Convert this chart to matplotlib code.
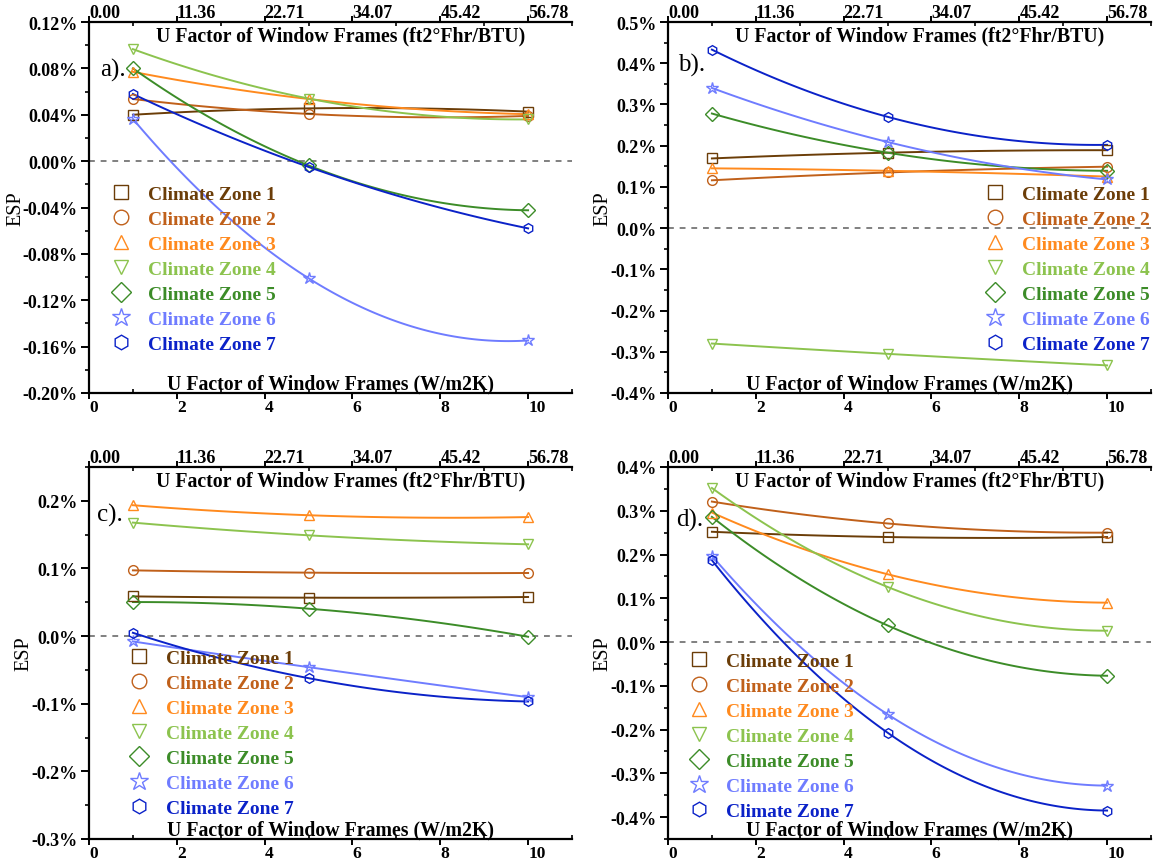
import numpy as np
import matplotlib.pyplot as plt
from matplotlib.ticker import MultipleLocator, FuncFormatter

plt.rcParams['font.family'] = ['Liberation Serif', 'DejaVu Serif']
plt.rcParams['font.weight'] = 'bold'

# window frame U factor (W/m2K) of the three simulated cases
u_si = [1, 5, 10]
top_ticks = [0, 2, 4, 6, 8, 10]
top_labels = ['0.00', '11.36', '22.71', '34.07', '45.42', '56.78']

zones = ['Climate Zone 1', 'Climate Zone 2', 'Climate Zone 3', 'Climate Zone 4',
         'Climate Zone 5', 'Climate Zone 6', 'Climate Zone 7']
colors = ['#6b3d08', '#c0601a', '#ff8a1e', '#8cc34e', '#3c8c28', '#6f7cff', '#0b22c8']
markers = ['s', 'o', '^', 'v', 'D', '*', 'h']

# ESP (%) per climate zone, one row per zone
esp_a = [[0.0400, 0.0455, 0.0427],
         [0.0536, 0.0407, 0.0390],
         [0.0770, 0.0536, 0.0405],
         [0.0966, 0.0540, 0.0360],
         [0.0800, -0.0037, -0.0424],
         [0.0364, -0.1010, -0.1547],
         [0.0579, -0.0050, -0.0580]]
esp_b = [[0.169, 0.183, 0.189],
         [0.116, 0.135, 0.149],
         [0.145, 0.139, 0.125],
         [-0.280, -0.305, -0.333],
         [0.278, 0.183, 0.139],
         [0.340, 0.209, 0.118],
         [0.433, 0.270, 0.202]]
esp_c = [[0.0587, 0.0568, 0.0578],
         [0.0972, 0.0938, 0.0933],
         [0.1935, 0.1787, 0.1760],
         [0.1678, 0.1490, 0.1357],
         [0.0503, 0.0405, -0.0010],
         [-0.0079, -0.0459, -0.0903],
         [0.0049, -0.0622, -0.0967]]
esp_d = [[0.252, 0.240, 0.240],
         [0.321, 0.271, 0.250],
         [0.296, 0.155, 0.090],
         [0.352, 0.126, 0.026],
         [0.286, 0.038, -0.077],
         [0.197, -0.165, -0.328],
         [0.187, -0.207, -0.385]]

panels = [
    dict(data=esp_a, tag='a).', ylim=(-0.20, 0.12), major=0.04, minor=0.02, fmt='{:.2f}%',
         rect=[89, 23, 483, 371], leg=(0.046, 0.5606), tagpos=(0.05, 0.872), ylab=-0.132),
    dict(data=esp_b, tag='b).', ylim=(-0.4, 0.5), major=0.1, minor=0.05, fmt='{:.1f}%',
         rect=[668, 23, 483, 371], leg=(0.656, 0.5606), tagpos=(0.049, 0.886), ylab=-0.116),
    dict(data=esp_c, tag='c).', ylim=(-0.3, 0.25), major=0.1, minor=0.05, fmt='{:.1f}%',
         rect=[89, 468, 483, 372], leg=(0.083, 0.5108), tagpos=(0.044, 0.872), ylab=-0.116),
    dict(data=esp_d, tag='d).', ylim=(-0.45, 0.4), major=0.1, minor=0.05, fmt='{:.1f}%',
         rect=[668, 468, 483, 372], leg=(0.0435, 0.5027), tagpos=(0.045, 0.858), ylab=-0.116),
]

W, H = 1157, 862
fig = plt.figure(figsize=(W / 100, H / 100), dpi=100)
x_fine = np.linspace(u_si[0], u_si[-1], 120)


def pct(fmt):
    def f(v, pos):
        if abs(v) < 1e-9:
            v = 0.0
        return fmt.format(v)
    return FuncFormatter(f)


for p in panels:
    l, t, w, h = p['rect']
    ax = fig.add_axes([l / W, 1 - (t + h) / H, w / W, h / H])

    for i, ys in enumerate(p['data']):
        coef = np.polyfit(u_si, ys, 2)
        ax.plot(x_fine, np.polyval(coef, x_fine), color=colors[i], lw=1.4, zorder=3)
        ms = 9 if markers[i] == '*' else 7
        ax.plot(u_si, ys, ls='none', marker=markers[i], ms=ms, mfc='none',
                mec=colors[i], mew=1.0, label=zones[i], zorder=4)

    ax.axhline(0, color='#808080', ls=(0, (3, 3)), lw=1.4, zorder=2)

    ax.set_xlim(0, 11)
    ax.set_ylim(*p['ylim'])
    ax.xaxis.set_major_locator(MultipleLocator(2))
    ax.xaxis.set_minor_locator(MultipleLocator(1))
    ax.yaxis.set_major_locator(MultipleLocator(p['major']))
    ax.yaxis.set_minor_locator(MultipleLocator(p['minor']))
    ax.yaxis.set_major_formatter(pct(p['fmt']))

    ax.spines['right'].set_visible(False)
    ax.spines['top'].set_visible(False)
    for s in ('left', 'bottom'):
        ax.spines[s].set_linewidth(1.6)
    ax.tick_params(axis='x', which='major', direction='out', length=4, width=1.4,
                   labelsize=12.5, pad=0)
    ax.tick_params(axis='x', which='minor', direction='in', length=3, width=1.2)
    ax.tick_params(axis='y', which='major', direction='out', length=6, width=1.4,
                   labelsize=13, pad=2)
    ax.tick_params(axis='y', which='minor', direction='out', length=3, width=1.2)
    for lab in ax.get_xticklabels():
        lab.set_ha('left')

    top = ax.secondary_xaxis('top')
    top.set_xticks(top_ticks, labels=top_labels)
    top.xaxis.set_minor_locator(MultipleLocator(1))
    top.spines['top'].set_linewidth(1.6)
    top.tick_params(which='major', direction='out', length=4, width=1.4, labelsize=13, pad=-3)
    top.tick_params(which='minor', direction='in', length=3, width=1.2)
    for lab in top.get_xticklabels():
        lab.set_ha('left')

    ax.text(0.5, -0.002, 'U Factor of Window Frames (W/m2K)', transform=ax.transAxes,
            ha='center', va='bottom', fontsize=14.3)
    ax.text(0.52, 0.99, 'U Factor of Window Frames (ft2\u00b0Fhr/BTU)', transform=ax.transAxes,
            ha='center', va='top', fontsize=14.3)
    ax.text(*p['tagpos'], p['tag'], transform=ax.transAxes, ha='center', va='center',
            fontsize=18, fontweight='normal')

    ax.set_ylabel('ESP', fontsize=14.5)
    ax.yaxis.set_label_coords(p['ylab'], 0.5)

    leg = ax.legend(loc='upper left', bbox_to_anchor=p['leg'], frameon=False,
                    fontsize=14, markerscale=1.5, handlelength=1.0, handletextpad=0.9,
                    labelspacing=0.38, borderpad=0, borderaxespad=0,
                    labelcolor='markeredgecolor')

fig.savefig('out.png', dpi=100)
